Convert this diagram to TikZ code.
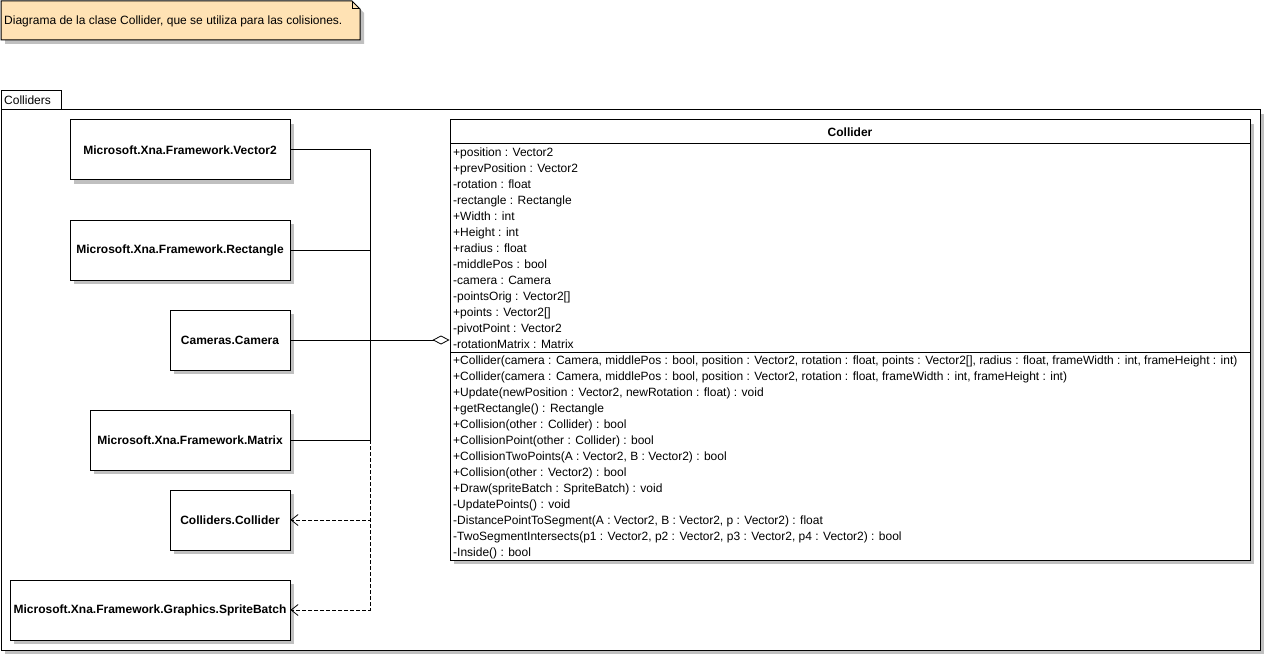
\documentclass[tikz,border=0pt]{standalone}
\usepackage{fontspec}
\setmainfont{Liberation Sans}
\usetikzlibrary{arrows.meta,shadows}
\definecolor{notefill}{RGB}{255,226,180}
\definecolor{shadowgray}{RGB}{192,192,192}
\tikzset{
  sh/.style={drop shadow={shadow xshift=4pt, shadow yshift=-4pt, fill=shadowgray, opacity=1}},
  cls/.style={draw=black, line width=1pt, fill=white, sh, font=\fontsize{12pt}{14pt}\selectfont\bfseries, inner sep=0pt},
  row/.style={anchor=base west, inner sep=0pt, font=\fontsize{12pt}{14pt}\selectfont},
  assoc/.style={line width=1pt, draw=black},
  dep/.style={line width=1pt, draw=black, dash pattern=on 4pt off 2pt, -{Straight Barb[length=7pt,width=11pt,line width=0.8pt]}},
}
\begin{document}
\begin{tikzpicture}[x=1pt,y=-1pt]
\useasboundingbox (0,0) rectangle (1265,655);
% note
\fill[shadowgray] (5,5) -- (356,5) -- (364,13) -- (364,44) -- (5,44) -- cycle;
\draw[line width=1pt, fill=notefill] (1,1) -- (352,1) -- (360,9) -- (360,40) -- (1,40) -- cycle;
\draw[line width=1pt] (352,1) -- (352,9) -- (360,9);
\node[row] (note) at (4,24.5) {Diagrama de la clase Collider, que se utiliza para las colisiones.};
% package
\fill[shadowgray] (5,114) rectangle (1264,654);
\draw[line width=1pt, fill=white] (1,91) rectangle (61,110);
\draw[line width=1pt, fill=white] (1,110) rectangle (1260,650);
\node[row] (pkg) at (4,104.5) {Colliders};
% classes
\node[cls, minimum width=220pt, minimum height=60pt] (v2) at (180,150) {Microsoft.Xna.Framework.Vector2};
\node[cls, minimum width=220pt, minimum height=60pt] (rect) at (180,250) {Microsoft.Xna.Framework.Rectangle};
\node[cls, minimum width=120pt, minimum height=60pt] (cam) at (230,340) {Cameras.Camera};
\node[cls, minimum width=200pt, minimum height=60pt] (mat) at (190,440) {Microsoft.Xna.Framework.Matrix};
\node[cls, minimum width=120pt, minimum height=60pt] (cc) at (230,520) {Colliders.Collider};
\node[cls, minimum width=280pt, minimum height=60pt] (sb) at (150,610) {Microsoft.Xna.Framework.Graphics.SpriteBatch};
% Collider class
\node[cls, minimum width=800pt, minimum height=440pt] (col) at (850,340) {};
\node[row, anchor=base, font=\fontsize{12pt}{14pt}\selectfont\bfseries] (colname) at (850,136.5) {Collider};
\draw[line width=1pt] (450,144) -- (1250,144);
\draw[line width=1pt] (450,352) -- (1250,352);
\node[row] (a1) at (453,156.5) {+position : Vector2};
\node[row] (a2) at (453,172.5) {+prevPosition : Vector2};
\node[row] (a3) at (453,188.5) {-rotation : float};
\node[row] (a4) at (453,204.5) {-rectangle : Rectangle};
\node[row] (a5) at (453,220.5) {+Width : int};
\node[row] (a6) at (453,236.5) {+Height : int};
\node[row] (a7) at (453,252.5) {+radius : float};
\node[row] (a8) at (453,268.5) {-middlePos : bool};
\node[row] (a9) at (453,284.5) {-camera : Camera};
\node[row] (a10) at (453,300.5) {-pointsOrig : Vector2[]};
\node[row] (a11) at (453,316.5) {+points : Vector2[]};
\node[row] (a12) at (453,332.5) {-pivotPoint : Vector2};
\node[row] (a13) at (453,348.5) {-rotationMatrix : Matrix};
\node[row] (m1) at (453,364.5) {+Collider(camera : Camera, middlePos : bool, position : Vector2, rotation : float, points : Vector2[], radius : float, frameWidth : int, frameHeight : int)};
\node[row] (m2) at (453,380.5) {+Collider(camera : Camera, middlePos : bool, position : Vector2, rotation : float, frameWidth : int, frameHeight : int)};
\node[row] (m3) at (453,396.5) {+Update(newPosition : Vector2, newRotation : float) : void};
\node[row] (m4) at (453,412.5) {+getRectangle() : Rectangle};
\node[row] (m5) at (453,428.5) {+Collision(other : Collider) : bool};
\node[row] (m6) at (453,444.5) {+CollisionPoint(other : Collider) : bool};
\node[row] (m7) at (453,460.5) {+CollisionTwoPoints(A : Vector2, B : Vector2) : bool};
\node[row] (m8) at (453,476.5) {+Collision(other : Vector2) : bool};
\node[row] (m9) at (453,492.5) {+Draw(spriteBatch : SpriteBatch) : void};
\node[row] (m10) at (453,508.5) {-UpdatePoints() : void};
\node[row] (m11) at (453,524.5) {-DistancePointToSegment(A : Vector2, B : Vector2, p : Vector2) : float};
\node[row] (m12) at (453,540.5) {-TwoSegmentIntersects(p1 : Vector2, p2 : Vector2, p3 : Vector2, p4 : Vector2) : bool};
\node[row] (m13) at (453,556.5) {-Inside() : bool};
% connectors
\coordinate (bus) at (370,340);
\coordinate (mj) at (370,440);
\draw[assoc] (v2.east) -| (bus);
\draw[assoc] (rect.east) -| (bus);
\draw[assoc] (mat.east) -| (bus);
\draw[assoc, -{Diamond[open, length=17pt, width=9pt, line width=0.8pt]}] (cam.east) -- (col.west);
\draw[dep] (mj) |- (cc.east);
\draw[dep] (mj) |- (sb.east);
\end{tikzpicture}
\end{document}
